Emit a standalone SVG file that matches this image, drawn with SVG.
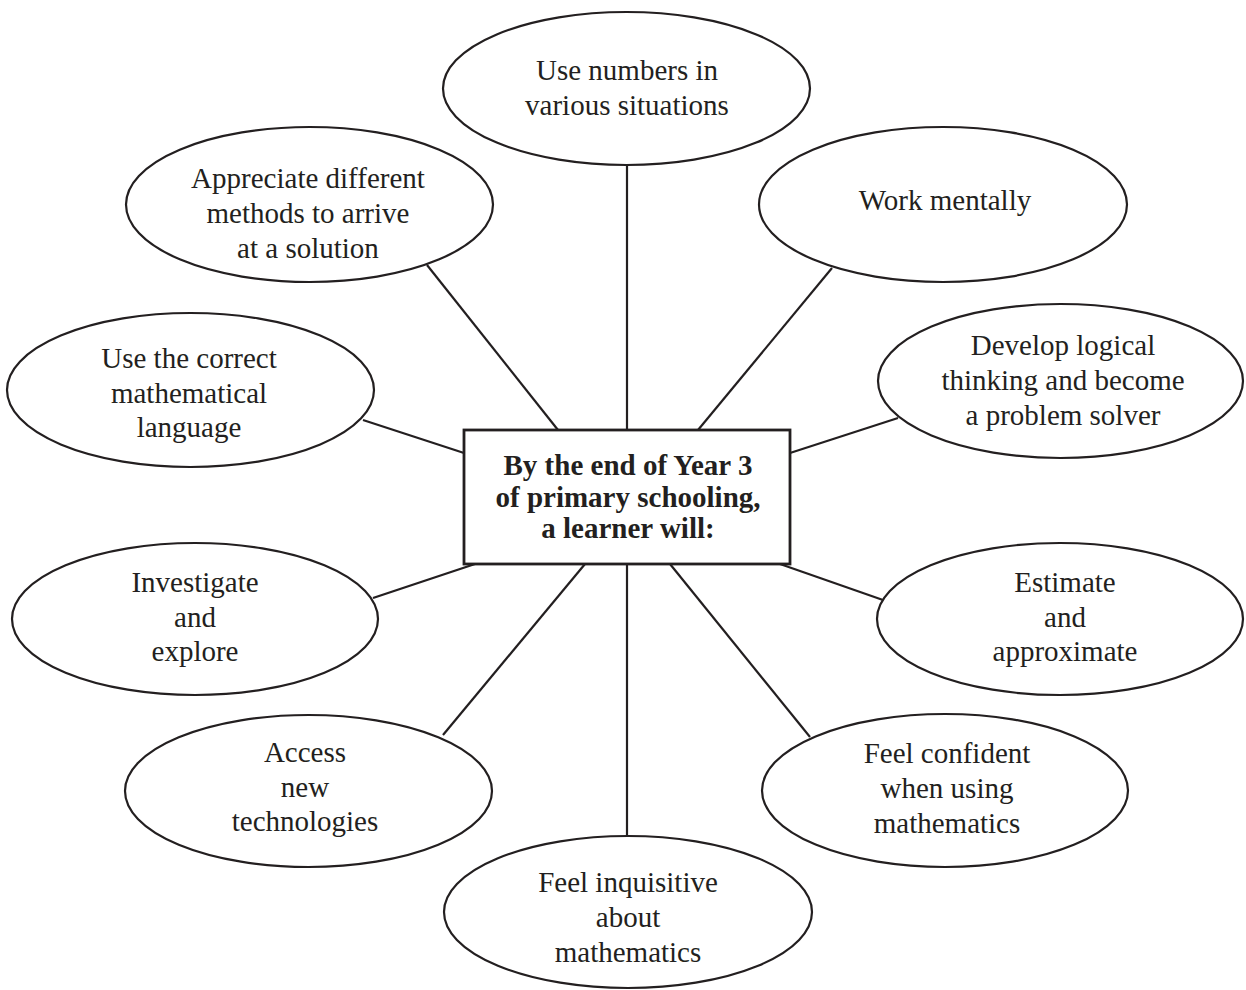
<svg xmlns="http://www.w3.org/2000/svg" width="1246" height="990" viewBox="0 0 1246 990">
  <style>
    .bubble { fill: #ffffff; stroke: #231f20; stroke-width: 2.2; }
    .hub { fill: #ffffff; stroke: #231f20; stroke-width: 2.8; }
    .link { stroke: #231f20; stroke-width: 2.2; fill: none; }
    .lbl { font-family: "Liberation Serif", "Times New Roman", serif; font-size: 29px; fill: #231f20; text-anchor: middle; }
    .hubtxt { font-family: "Liberation Serif", "Times New Roman", serif; font-size: 29px; font-weight: bold; fill: #231f20; text-anchor: middle; }
  </style>
  <rect width="1246" height="990" fill="#ffffff"/>

  <!-- spokes from the central box to each outcome -->
  <g id="connectors">
    <line class="link" x1="627" y1="165" x2="627" y2="430"/>
    <line class="link" x1="427" y1="265" x2="558" y2="430"/>
    <line class="link" x1="832" y1="268" x2="698" y2="430"/>
    <line class="link" x1="363" y1="420" x2="464" y2="453"/>
    <line class="link" x1="898" y1="418" x2="790" y2="453"/>
    <line class="link" x1="373" y1="598" x2="475" y2="564"/>
    <line class="link" x1="883" y1="600" x2="780" y2="564"/>
    <line class="link" x1="443" y1="735" x2="585" y2="564"/>
    <line class="link" x1="810" y1="737" x2="670" y2="564"/>
    <line class="link" x1="627" y1="564" x2="627" y2="837"/>
  </g>

  <g id="hub">
    <rect class="hub" x="464" y="430" width="326" height="134"/>
    <text class="hubtxt" x="628" y="475">By the end of Year 3</text>
    <text class="hubtxt" x="628" y="507">of primary schooling,</text>
    <text class="hubtxt" x="628" y="538">a learner will:</text>
  </g>

  <g id="use-numbers">
    <ellipse class="bubble" cx="626.5" cy="88.5" rx="183.5" ry="76.5"/>
    <text class="lbl" x="627" y="80">Use numbers in</text>
    <text class="lbl" x="627" y="115">various situations</text>
  </g>

  <g id="appreciate-methods">
    <ellipse class="bubble" cx="309.5" cy="204.5" rx="183.5" ry="77.5"/>
    <text class="lbl" x="308" y="188">Appreciate different</text>
    <text class="lbl" x="308" y="223">methods to arrive</text>
    <text class="lbl" x="308" y="258">at a solution</text>
  </g>

  <g id="work-mentally">
    <ellipse class="bubble" cx="943" cy="204.5" rx="184" ry="77.5"/>
    <text class="lbl" x="945" y="210">Work mentally</text>
  </g>

  <g id="correct-language">
    <ellipse class="bubble" cx="190.5" cy="390" rx="183.5" ry="77"/>
    <text class="lbl" x="189" y="368">Use the correct</text>
    <text class="lbl" x="189" y="403">mathematical</text>
    <text class="lbl" x="189" y="437">language</text>
  </g>

  <g id="logical-thinking">
    <ellipse class="bubble" cx="1060.5" cy="381" rx="182.5" ry="77"/>
    <text class="lbl" x="1063" y="355">Develop logical</text>
    <text class="lbl" x="1063" y="390">thinking and become</text>
    <text class="lbl" x="1063" y="425">a problem solver</text>
  </g>

  <g id="investigate">
    <ellipse class="bubble" cx="195" cy="619" rx="183" ry="76"/>
    <text class="lbl" x="195" y="592">Investigate</text>
    <text class="lbl" x="195" y="627">and</text>
    <text class="lbl" x="195" y="661">explore</text>
  </g>

  <g id="estimate">
    <ellipse class="bubble" cx="1060" cy="619" rx="183" ry="76"/>
    <text class="lbl" x="1065" y="592">Estimate</text>
    <text class="lbl" x="1065" y="627">and</text>
    <text class="lbl" x="1065" y="661">approximate</text>
  </g>

  <g id="new-technologies">
    <ellipse class="bubble" cx="308.5" cy="791" rx="183.5" ry="76"/>
    <text class="lbl" x="305" y="762">Access</text>
    <text class="lbl" x="305" y="797">new</text>
    <text class="lbl" x="305" y="831">technologies</text>
  </g>

  <g id="feel-confident">
    <ellipse class="bubble" cx="945" cy="790.5" rx="183" ry="76.5"/>
    <text class="lbl" x="947" y="763">Feel confident</text>
    <text class="lbl" x="947" y="798">when using</text>
    <text class="lbl" x="947" y="833">mathematics</text>
  </g>

  <g id="feel-inquisitive">
    <ellipse class="bubble" cx="628" cy="912" rx="184" ry="76"/>
    <text class="lbl" x="628" y="892">Feel inquisitive</text>
    <text class="lbl" x="628" y="927">about</text>
    <text class="lbl" x="628" y="962">mathematics</text>
  </g>
</svg>
